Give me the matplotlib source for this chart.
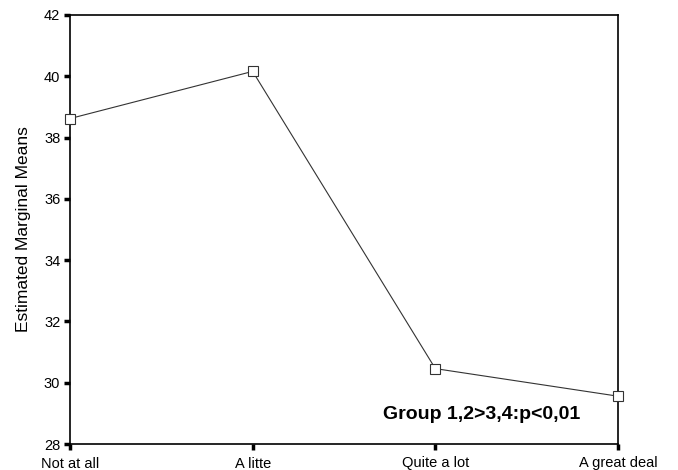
import numpy as np
import matplotlib
matplotlib.use("Agg")
import matplotlib.pyplot as plt

plt.rcParams["font.family"] = ["Liberation Sans", "DejaVu Sans"]

categories = ["Not at all", "A litte", "Quite a lot", "A great deal"]
means = [38.62, 40.16, 30.46, 29.56]
yticks = [28, 30, 32, 34, 36, 38, 40, 42]

fig = plt.figure(figsize=(6.78, 4.70), dpi=100)
ax = fig.add_axes([70 / 678, 1 - 444 / 470, 548 / 678, 429 / 470])

x = np.arange(len(categories))
ax.plot(x, means, color="#333333", lw=0.8, marker="s", ms=6.5,
        mfc="white", mec="#333333", mew=0.8, clip_on=False, zorder=3)

ax.set_xlim(0, 3)
ax.set_ylim(28, 42)
ax.set_xticks(x)
ax.set_xticklabels(categories, fontsize=10.5)
ax.set_yticks(yticks)
ax.set_yticklabels([str(t) for t in yticks], fontsize=10.5)
ax.tick_params(axis="both", length=4, width=2.5, color="black", pad=5)
ax.tick_params(axis="y", pad=3)
for s in ax.spines.values():
    s.set_linewidth(1.2)

ax.set_ylabel("Estimated Marginal Means", fontsize=12.5, labelpad=9)

ax.text(0.932, 0.058, "Group 1,2>3,4:p<0,01", transform=ax.transAxes,
        fontsize=14, fontweight="bold", ha="right", va="baseline")

fig.savefig("out.png", dpi=100)
